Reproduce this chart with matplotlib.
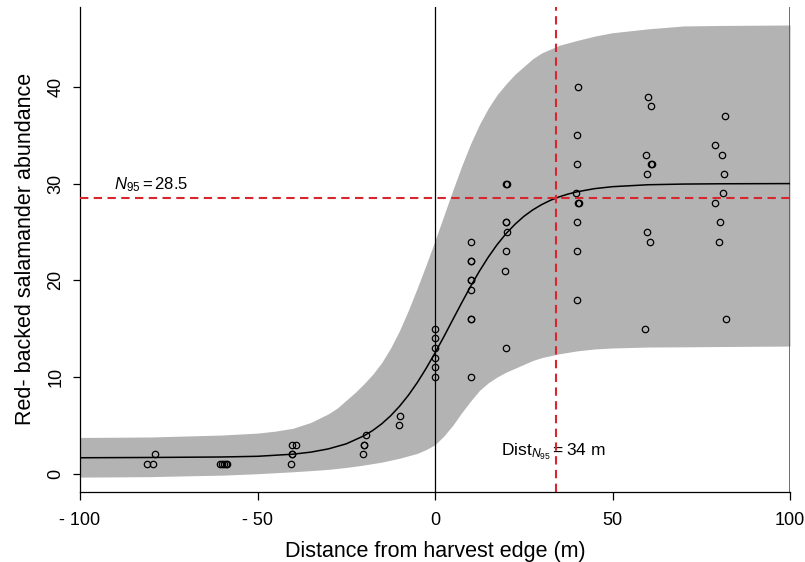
import matplotlib
matplotlib.use("Agg")
import matplotlib.pyplot as plt

plt.rcParams['font.family'] = ['Liberation Sans', 'DejaVu Sans']
plt.rcParams['mathtext.fontset'] = 'custom'
plt.rcParams['mathtext.rm'] = 'Liberation Sans'
plt.rcParams['mathtext.it'] = 'Liberation Sans:italic'

# observed counts (distance from edge, abundance)
obs_x = [-81, -79.5, -79,
         -60.7, -60, -59.5, -59, -58.7,
         -40.2, -39.2, -40.3, -40.3, -40.6,
         -19.5, -19.9, -19.9, -20.3,
         -9.8, -10.1,
         0, 0, 0, 0, 0, 0,
         10, 10, 10, 10, 10, 10.2, 10, 10, 10,
         20, 20.3, 20, 20, 20.4, 20, 19.8, 20,
         40.2, 39.9, 39.9, 39.7, 40.2, 40.5, 40, 40, 40,
         60, 60.9, 59.3, 60.8, 61, 59.7, 59.7, 60.5, 59.2,
         81.6, 78.9, 80.8, 81.5, 81, 78.9, 80.3, 80.1, 82]
obs_y = [1, 1, 2,
         1, 1, 1, 1, 1,
         3, 3, 2, 2, 1,
         4, 3, 3, 2,
         6, 5,
         15, 14, 13, 12, 11, 10,
         24, 22, 22, 20, 20, 19, 16, 16, 10,
         30, 30, 26, 26, 25, 23, 21, 13,
         40, 35, 32, 29, 28, 28, 26, 23, 18,
         39, 38, 33, 32, 32, 31, 25, 24, 15,
         37, 34, 33, 31, 29, 28, 26, 24, 16]

# fitted curve
fit_x = [-100, -80, -60, -50, -40, -35, -30, -25, -20, -17.5, -15, -12.5, -10,
         -7.5, -5, -2.5, 0, 2.5, 5, 7.5, 10, 12.5, 15, 17.5, 20, 22.5, 25,
         27.5, 30, 32.5, 35, 37.5, 40, 45, 50, 60, 70, 80, 100]
fit_y = [1.65, 1.68, 1.73, 1.80, 2.02, 2.23, 2.57, 3.09, 3.92, 4.48, 5.16, 5.99, 6.97,
         8.11, 9.42, 10.89, 12.49, 14.17, 15.92, 17.66, 19.35, 20.94, 22.39, 23.69, 24.82, 25.78, 26.60,
         27.27, 27.82, 28.27, 28.63, 28.92, 29.15, 29.48, 29.68, 29.88, 29.95, 29.98, 30.0]

# credible band
band_x = [-100, -90, -80, -70, -60, -50, -45, -40, -35, -30, -27.5, -25, -22.5, -20,
          -17.5, -15, -12.5, -10, -7.5, -5, -2.5, 0, 2.5, 5, 7.5, 10, 12.5, 15,
          17.5, 20, 22.5, 25, 27.5, 30, 35, 40, 45, 50, 60, 70, 80, 100]
band_lo = [-0.35, -0.33, -0.3, -0.22, -0.15, 0.0, 0.1, 0.2, 0.32, 0.45, 0.55, 0.65, 0.77, 0.9,
           1.05, 1.2, 1.4, 1.6, 1.85, 2.1, 2.5, 3.0, 3.9, 5.0, 6.3, 7.5, 8.6, 9.4,
           10.0, 10.5, 10.9, 11.3, 11.7, 12.0, 12.4, 12.7, 12.9, 13.0, 13.1, 13.12, 13.15, 13.2]
band_hi = [3.75, 3.77, 3.8, 3.9, 4.0, 4.2, 4.4, 4.7, 5.3, 6.2, 6.8, 7.6, 8.4, 9.3,
           10.3, 11.5, 13.0, 14.8, 16.9, 19.2, 21.6, 24.1, 26.7, 29.3, 31.8, 34.1, 36.1, 37.8,
           39.2, 40.3, 41.3, 42.1, 42.9, 43.5, 44.3, 44.8, 45.25, 45.6, 46.0, 46.3, 46.35, 46.4]

n95 = 28.5
dist_n95 = 34

fig = plt.figure(figsize=(8.05, 5.62), dpi=100)
ax = fig.add_axes([80 / 805, 1 - 491.7 / 562, 710 / 805, 484.7 / 562])

ax.fill_between(band_x, band_lo, band_hi, color='#b3b3b3', lw=0, zorder=1)
ax.axvline(0, color='black', lw=0.9, zorder=2)
ax.axvline(100, color='#555555', lw=1.2, zorder=2)
ax.plot(fit_x, fit_y, color='black', lw=1.1, zorder=3)
ax.plot(obs_x, obs_y, 'o', mfc='none', mec='black', ms=4.6, mew=0.9, zorder=4)

ax.axhline(n95, color='#d7262e', lw=1.5, dashes=(4, 2.6), zorder=5)
ax.axvline(dist_n95, color='#d7262e', lw=1.5, dashes=(4, 2.6), zorder=5)

ax.text(-90.5, 28.9, r'$\mathit{N}_{95} = 28.5$', fontsize=12, ha='left', va='bottom')
ax.text(33.2, 2.3, r'$\mathrm{Dist}_{\mathit{N}_{95}} = 34\ \mathrm{m}$', fontsize=12.5,
        ha='center', va='center')

ax.set_xlim(-100, 100)
ax.set_ylim(-1.86, 48.26)
ax.set_xticks([-100, -50, 0, 50, 100])
ax.set_xticklabels(['- 100', '- 50', '0', '50', '100'])
ax.set_yticks([0, 10, 20, 30, 40])
ax.set_yticklabels(['0', '10', '20', '30', '40'], rotation=90, va='center')
ax.tick_params(labelsize=13, length=5.4, width=0.9, direction='out')
ax.tick_params(axis='x', pad=9)
ax.tick_params(axis='y', pad=6)

for s in ['top', 'right']:
    ax.spines[s].set_visible(False)
for s in ['left', 'bottom']:
    ax.spines[s].set_linewidth(0.9)

ax.set_xlabel('Distance from harvest edge (m)', fontsize=15.5, labelpad=9)
ax.set_ylabel('Red- backed salamander abundance', fontsize=15.5, labelpad=8)

fig.savefig('out.png', dpi=100)
